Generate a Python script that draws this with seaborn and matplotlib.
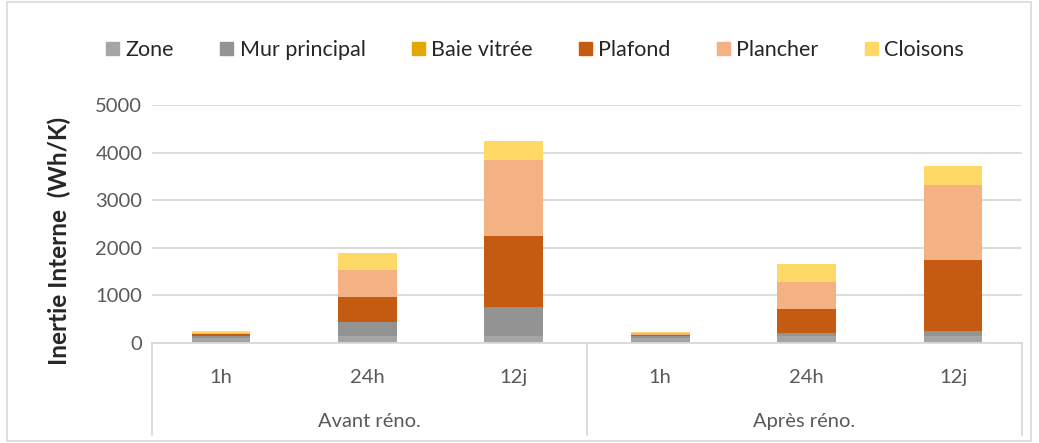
# inertie interne avant / après rénovation
import pandas as pd
import numpy as np

import matplotlib.pyplot as plt
import matplotlib.patches as mpatches
import seaborn as sns

# données (Wh/K)
groupes = ['Avant réno.', 'Après réno.']
durees = ['1h', '24h', '12j']
composants = ['Zone', 'Mur principal', 'Baie vitrée', 'Plafond', 'Plancher', 'Cloisons']
couleurs = ['#A5A5A5', '#939393', '#E3A800', '#C55A11', '#F4B183', '#FFD966']

zone = [100, 150, 150, 100, 150, 150]
mur_principal = [50, 290, 605, 45, 55, 95]
baie_vitree = [2, 3, 3, 2, 3, 3]
plafond = [30, 530, 1500, 30, 510, 1495]
plancher = [25, 560, 1590, 25, 570, 1580]
cloisons = [40, 360, 400, 37, 370, 400]

sns.set_style('white')
plt.rcParams['font.family'] = ['Lato', 'DejaVu Sans']

cats = [f'{g}|{d}' for g in groupes for d in durees]
df = pd.DataFrame({'cat': cats, 'Zone': zone, 'Mur principal': mur_principal,
                   'Baie vitrée': baie_vitree, 'Plafond': plafond,
                   'Plancher': plancher, 'Cloisons': cloisons})
cumul = df[composants].cumsum(axis=1)

fig = plt.figure(figsize=(10.39, 4.43), dpi=100)
ax = fig.add_axes([0.1463, 0.2257, 0.8373, 0.5373])

# empilement : on dessine du haut vers le bas
for comp, col in reversed(list(zip(composants, couleurs))):
    sns.barplot(x=df['cat'], y=cumul[comp], order=cats, color=col,
                width=0.4, saturation=1, ax=ax, linewidth=0)

ax.set_ylim(0, 5000)
ax.set_yticks(range(0, 5001, 1000))
ax.yaxis.grid(True, color='#D9D9D9', linewidth=1.3)
ax.set_axisbelow(True)
for s in ['top', 'right', 'left']:
    ax.spines[s].set_visible(False)
ax.spines['bottom'].set_color('#D9D9D9')
ax.spines['bottom'].set_linewidth(1.3)

ax.set_xticks(range(len(cats)))
ax.set_xticklabels([c.split('|')[1] for c in cats])
ax.tick_params(axis='x', length=0, pad=19, labelsize=14.5, labelcolor='#595959')
ax.tick_params(axis='y', length=0, pad=7, labelsize=14.5, labelcolor='#595959')
ax.set_xlabel('')
ax.set_ylabel('Inertie Interne  (Wh/K)', fontsize=17.5, fontweight='bold')
ax.yaxis.set_label_coords(-0.093, 0.43)

# étiquettes de groupe et séparateurs
for i, g in enumerate(groupes):
    ax.text(0.25 + 0.5 * i, -0.33, g, transform=ax.transAxes, ha='center', va='center',
            fontsize=14.5, color='#595959')
for xs in [0, 0.5, 1]:
    ax.plot([xs, xs], [0, -0.387], transform=ax.transAxes, color='#D9D9D9',
            linewidth=1.3, clip_on=False)

handles = [mpatches.Patch(color=c, label=l) for l, c in zip(composants, couleurs)]
fig.legend(handles=handles, loc='center', bbox_to_anchor=(0.515, 0.887), ncol=6,
           frameon=False, fontsize=15.5, handlelength=0.6, handleheight=0.6,
           handletextpad=0.3, columnspacing=2.15)

# cadre du graphique
fig.patches.append(mpatches.Rectangle((0.007, 0.005), 0.985, 0.99, transform=fig.transFigure,
                                      fill=False, edgecolor='#D9D9D9', linewidth=1.2))

plt.savefig('out.png', dpi=100)
